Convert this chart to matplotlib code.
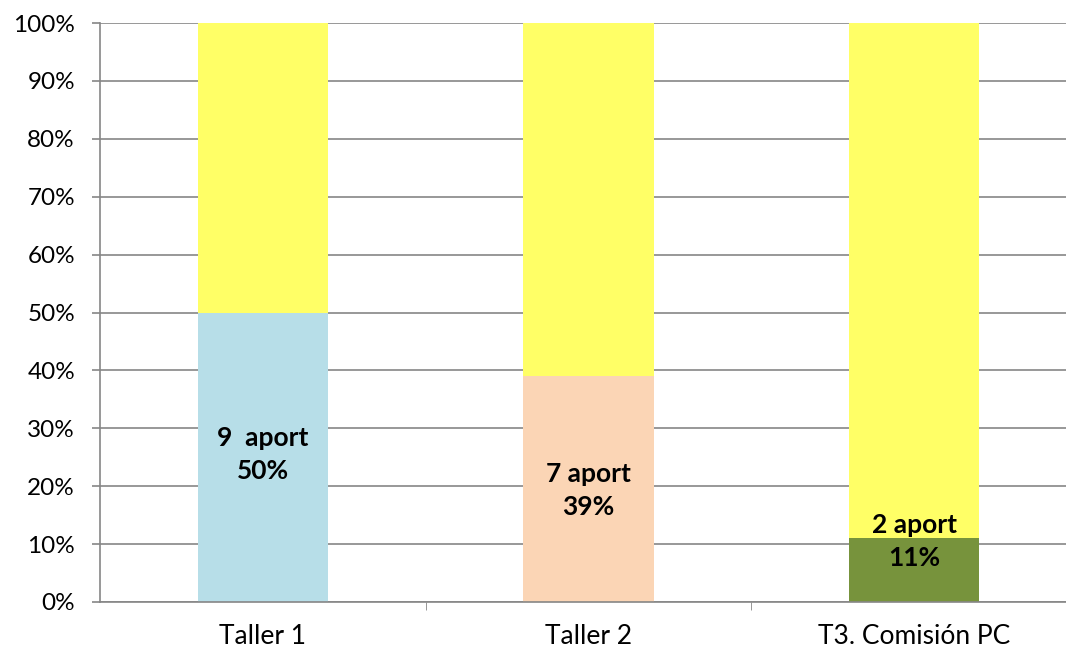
import matplotlib.pyplot as plt
import numpy as np

plt.rcParams['font.family'] = ['Lato', 'DejaVu Sans']

categories = ['Taller 1', 'Taller 2', 'T3. Comisión PC']
aportes = [9, 7, 2]
share = [50, 39, 11]
rest = [100 - s for s in share]
bottom_colors = ['#B7DEE8', '#FBD5B5', '#77933C']
label_y = [25.4, 19.3, 10.4]

fig = plt.figure(figsize=(10.66, 6.51), dpi=100)
ax = fig.add_axes([100 / 1066, 1 - 602 / 651, 977 / 1066, 579 / 651])

x = np.arange(len(categories))
ax.bar(x, share, width=0.4, color=bottom_colors, zorder=2)
ax.bar(x, rest, width=0.4, bottom=share, color='#FFFF66', zorder=2)

for xi, n, s, ly in zip(x, aportes, share, label_y):
    sep = '  ' if n == 9 else ' '
    ax.text(xi, ly, f'{n}{sep}aport\n{s}%', ha='center', va='center',
            fontsize=19, fontweight='bold', linespacing=1.45, zorder=3)

ax.set_xlim(-0.5, 2.5)
ax.set_ylim(0, 100)
ax.set_yticks(range(0, 101, 10))
ax.set_yticklabels([f'{v}%' for v in range(0, 101, 10)], fontsize=17.5)
ax.set_xticks(x)
ax.set_xticklabels(categories, fontsize=19)
ax.set_xticks([0.5, 1.5], minor=True)
ax.tick_params(axis='x', which='both', length=0, pad=16)
ax.tick_params(axis='x', which='minor', length=6, color='#868686', direction='out', pad=0)
ax.tick_params(axis='y', length=6, color='#868686', width=1.2, pad=12)
ax.yaxis.grid(True, color='#868686', linewidth=1.2, zorder=0)
for side in ['top', 'right']:
    ax.spines[side].set_visible(False)
for side in ['left', 'bottom']:
    ax.spines[side].set_color('#868686')
    ax.spines[side].set_linewidth(1.2)

fig.savefig('out.png', dpi=100)
